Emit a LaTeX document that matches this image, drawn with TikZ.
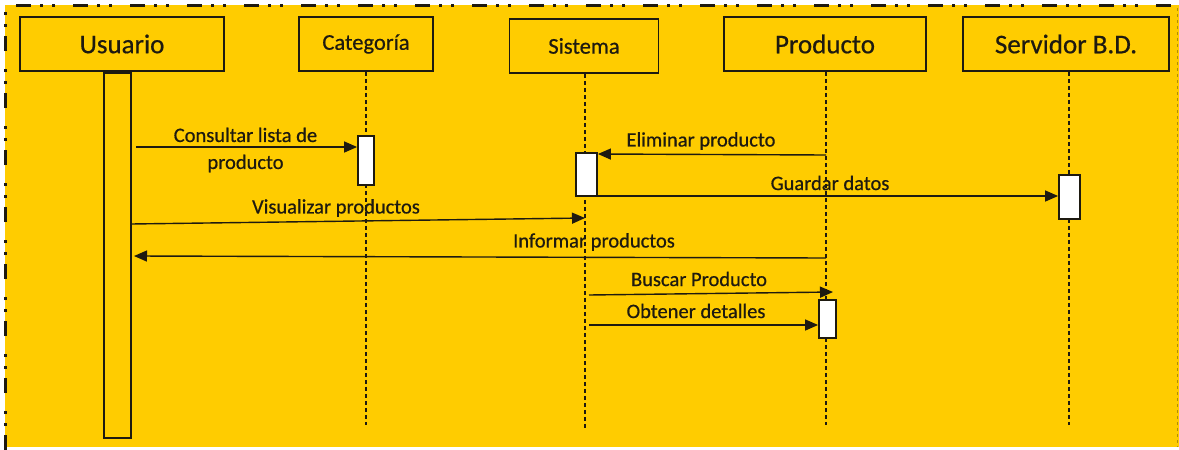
\documentclass[tikz,border=0pt]{standalone}
\usepackage{fontspec}
\setmainfont{Carlito}[FakeBold=0.6]
\usetikzlibrary{arrows.meta}
\definecolor{bg}{HTML}{FFCC00}
\definecolor{ink}{HTML}{1E1A10}

\begin{document}
\begin{tikzpicture}[x=1pt,y=-1pt,
  head/.style={draw=ink,line width=1.6pt,fill=bg,inner sep=0pt,text=ink},
  big/.style={font=\fontsize{27}{30}\selectfont},
  mid/.style={font=\fontsize{22.5}{26}\selectfont},
  actbox/.style={draw=ink,line width=1.8pt,fill=white,inner sep=0pt},
  life/.style={draw=ink,line width=1.5pt,dash pattern=on 4pt off 3pt},
  msg/.style={draw=ink,line width=1.4pt,-{Triangle[length=13pt,width=11pt]}},
  lbl/.style={font=\fontsize{20.5}{27}\selectfont,text=ink,inner sep=0pt,align=center}]

\useasboundingbox (0,0) rectangle (1179,450);

% frame
\fill[bg] (5,5) rectangle (1179,447);
\draw[ink,line width=3pt,dash pattern=on 15pt off 9pt on 3pt off 9pt on 3pt off 18pt]
  (5,450) -- (5,5) -- (1179,5);
\draw[ink!35!bg,line width=1pt,dash pattern=on 3pt off 3pt] (1177,8) -- (1177,447);

% participants
\node[head,big,minimum width=204pt,minimum height=54pt] (usr) at (122,44) {Usuario};
\node[head,mid,minimum width=134pt,minimum height=54pt] (cat) at (366,44) {Categoría};
\node[head,mid,minimum width=149pt,minimum height=54pt] (sis) at (584,46) {Sistema};
\node[head,big,minimum width=202pt,minimum height=54pt] (pro) at (825,44) {Producto};
\node[head,big,minimum width=206pt,minimum height=54pt] (srv) at (1066,44) {Servidor B.D.};

% lifelines
\coordinate (catend) at (366,425);
\coordinate (sisend) at (585,428);
\coordinate (proend) at (826,425);
\coordinate (srvend) at (1069,425);
\draw[life] (cat.south) -- (catend);
\draw[life] (sis.south -| sisend) -- (sisend);
\draw[life] (pro.south -| proend) -- (proend);
\draw[life] (srv.south -| srvend) -- (srvend);

% activation bars
\node[draw=ink,line width=1.8pt,fill=bg,inner sep=0pt,minimum width=27pt,minimum height=365pt] (usrbar) at (117.5,255.5) {};
\node[actbox,minimum width=16pt,minimum height=49pt] (catact) at (366,160.5) {};
\node[actbox,minimum width=21pt,minimum height=43pt] (sisact) at (586.5,174.5) {};
\node[actbox,minimum width=21pt,minimum height=44pt] (srvact) at (1069.5,197) {};
\node[actbox,minimum width=17pt,minimum height=38pt] (proact) at (827.5,319) {};

% message end points
\coordinate (m1s) at (136,147);
\coordinate (m2s) at (826,155);
\coordinate (m4s) at (131,224);
\coordinate (m4e) at (585,218);
\coordinate (m5s) at (826,258);
\coordinate (m5e) at (134,256);
\coordinate (m6s) at (589,295);
\coordinate (m6e) at (833,292);
\coordinate (m7s) at (589,325);

% messages
\draw[msg] (m1s) -- (catact.west |- m1s);
\draw[msg] (m2s) -- (sisact.east |- 0,154);
\draw[msg] (sisact.east |- 0,196) -- (srvact.west |- 0,196);
\draw[msg] (m4s) -- (m4e);
\draw[msg] (m5s) -- (m5e);
\draw[msg] (m6s) -- (m6e);
\draw[msg] (m7s) -- (proact.west |- m7s);

% message labels
\node[lbl] (l1) at (245.5,150) {Consultar lista de\\producto};
\node[lbl] (l2) at (701,141) {Eliminar producto};
\node[lbl] (l3) at (830,183) {Guardar datos};
\node[lbl] (l4) at (336,208) {Visualizar productos};
\node[lbl] (l5) at (594,242) {Informar productos};
\node[lbl] (l6) at (699,279) {Buscar Producto};
\node[lbl] (l7) at (696,311) {Obtener detalles};
\end{tikzpicture}
\end{document}
